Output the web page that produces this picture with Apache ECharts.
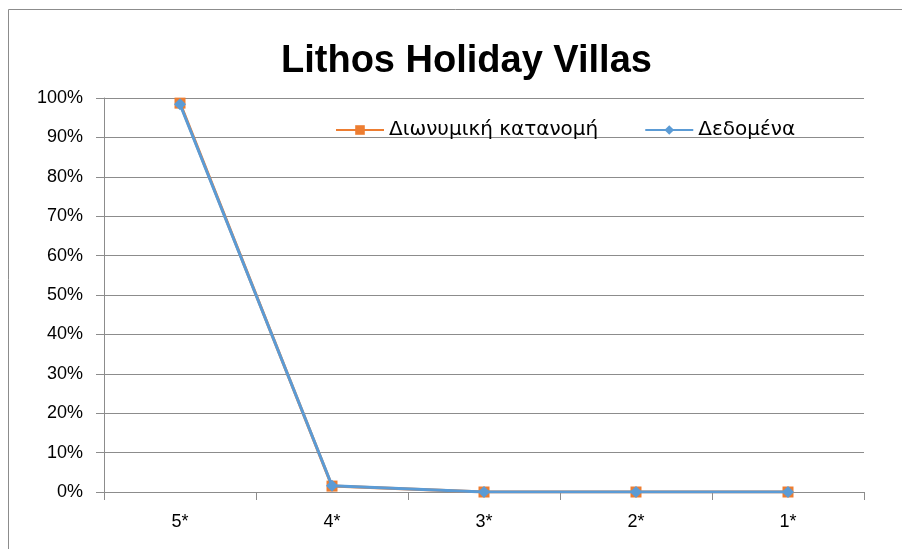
<!DOCTYPE html>
<html>
<head>
<meta charset="utf-8">
<script src="https://cdn.jsdelivr.net/npm/echarts@6/dist/echarts.min.js"></script>
<style>
html, body { margin: 0; padding: 0; background: #fff; }
#chartDiv { width: 902px; height: 549px; }
</style>
</head>
<body>
<div id="chartDiv"></div>
<script>
var categories = ["5*", "4*", "3*", "2*", "1*"];
var binomialValues = [0.987, 0.015, 0.0, 0.0, 0.0];
var dataValues = [0.984, 0.016, 0.0, 0.0, 0.0];
var yTicks = [0, 0.1, 0.2, 0.3, 0.4, 0.5, 0.6, 0.7, 0.8, 0.9, 1.0];

var fontName = "'Liberation Sans', 'DejaVu Sans', sans-serif";
var legendFont = "'DejaVu Sans', 'Liberation Sans', sans-serif";

var chart = echarts.init(document.getElementById('chartDiv'));

var option = {
	backgroundColor: '#fff',
	animation: false,
	title: {
		text: "Lithos Holiday Villas",
		left: 276,
		top: 38,
		textStyle: { fontFamily: fontName, fontSize: 38, fontWeight: 'bold', color: '#000' }
	},
	legend: {
		top: 115,
		left: 330,
		itemGap: 46,
		itemWidth: 48,
		itemHeight: 12,
		textStyle: { fontFamily: legendFont, fontSize: 20, color: '#000' },
		data: ["Διωνυμική κατανομή", "Δεδομένα"]
	},
	graphic: [{
		type: 'rect',
		shape: { x: 8.5, y: 9.5, width: 1000, height: 1000 },
		style: { fill: 'none', stroke: '#8c8c8c', lineWidth: 1 },
		silent: true
	}],
	grid: { left: 104, right: 38, top: 98, bottom: 57 },
	xAxis: {
		type: 'category',
		data: categories,
		boundaryGap: true,
		axisLine: { lineStyle: { color: '#8c8c8c', width: 1 } },
		axisTick: { show: true, length: 8, alignWithLabel: false, lineStyle: { color: '#8c8c8c' } },
		axisLabel: { fontFamily: fontName, fontSize: 18, color: '#000', margin: 21 }
	},
	yAxis: {
		type: 'value',
		min: yTicks[0],
		max: yTicks[yTicks.length - 1],
		interval: 0.1,
		axisLine: { show: true, lineStyle: { color: '#8c8c8c', width: 1 } },
		axisTick: { show: true, length: 8, lineStyle: { color: '#8c8c8c' } },
		splitLine: { lineStyle: { color: '#8c8c8c', width: 1 } },
		axisLabel: {
			fontFamily: fontName, fontSize: 18, color: '#000', margin: 21,
			formatter: function (v) { return Math.round(v * 100) + '%'; }
		}
	},
	series: [{
		name: "Διωνυμική κατανομή",
		type: 'line',
		data: binomialValues,
		symbol: 'rect',
		symbolSize: 11,
		color: '#ED7D31',
		lineStyle: { color: '#ED7D31', width: 3 },
		itemStyle: { color: '#ED7D31' },
		z: 2
	}, {
		name: "Δεδομένα",
		type: 'line',
		data: dataValues,
		symbol: 'diamond',
		symbolSize: 12,
		color: '#5B9BD5',
		lineStyle: { color: '#5B9BD5', width: 3 },
		itemStyle: { color: '#5B9BD5' },
		z: 3
	}]
};

chart.setOption(option);
</script>
</body>
</html>
